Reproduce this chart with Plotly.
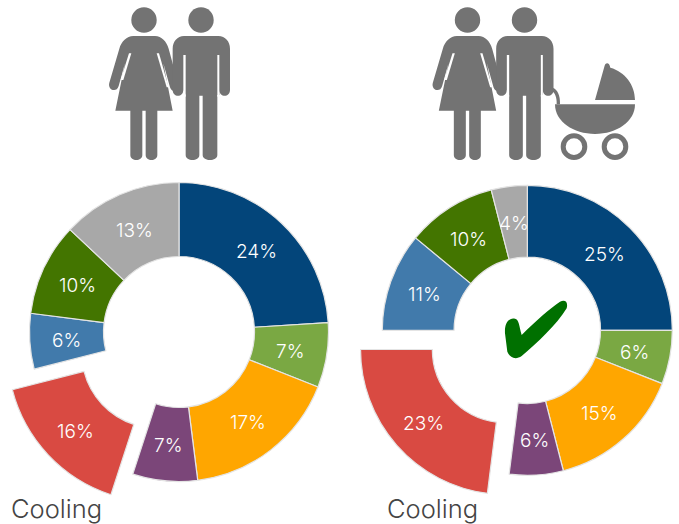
import math, re
import plotly.graph_objects as go

W, H = 679, 524
SLICE_NAMES = ["Heating", "Hot water", "Appliances", "Lighting", "Cooling", "Cooking", "Electronics", "Other"]
COLORS = ["#03457A", "#7AA843", "#FFA600", "#7B4679", "#D94A42", "#417AAB", "#437500", "#A8A8A8"]
COUPLE_VALUES = [24, 7, 17, 7, 16, 6, 10, 13]
FAMILY_VALUES = [25, 6, 15, 6, 23, 11, 10, 4]
PULLED_SLICE = "Cooling"
CAPTION = "Cooling"
GREY = "#737373"
EDGE = "#E4E4E4"
FONT = "Inter"
HOLE = 0.505
label_notes = []


def donut(values, cx, cy, r, offset):
    idx = SLICE_NAMES.index(PULLED_SLICE)
    total = sum(values)
    mid = (sum(values[:idx]) + values[idx] / 2) / total * 2 * math.pi
    dx, dy = offset * math.sin(mid), -offset * math.cos(mid)
    traces = []
    for focus, ox, oy in ((False, 0, 0), (True, dx, dy)):
        shown = [(i == idx) == focus for i in range(len(values))]
        traces.append(go.Pie(
            labels=SLICE_NAMES, values=values, sort=False, direction="clockwise", rotation=0,
            hole=HOLE, showlegend=False, hoverinfo="skip", textinfo="none",
            domain=dict(x=[(cx + ox - r) / W, (cx + ox + r) / W],
                        y=[1 - (cy + oy + r) / H, 1 - (cy + oy - r) / H]),
            marker=dict(colors=[c if s else "rgba(0,0,0,0)" for c, s in zip(COLORS, shown)],
                        line=dict(color=EDGE, width=[1.2 if s else 0 for s in shown])),
        ))
    # value labels sit at the middle of each ring segment
    ring = r * (1 + HOLE) / 2
    start = 0
    for i, v in enumerate(values):
        a = (start + v / 2) / total * 2 * math.pi
        start += v
        lx = cx + ring * math.sin(a) + (dx if i == idx else 0)
        ly = cy - ring * math.cos(a) + (dy if i == idx else 0) + 1.5
        label_notes.append(dict(
            text=f"{v}%", x=lx / W, y=1 - ly / H, xref="paper", yref="paper",
            xanchor="center", yanchor="middle", showarrow=False,
            font=dict(color="white", size=19, family=FONT, weight=300)))
    return traces


def path(s, ox=0, oy=0, scale=1.0):
    nums = iter(re.findall(r"-?\d+\.?\d*|[A-Z]", s))
    out, is_x = [], True
    for t in nums:
        if t.isalpha():
            out.append(t)
            is_x = True
        else:
            v = float(t)
            if is_x:
                out.append(f"{(ox + v * scale) / W:.5f}")
            else:
                out.append(f"{1 - (oy + v * scale) / H:.5f}")
            is_x = not is_x
    return " ".join(out)


def solid(s, ox, oy, scale=1 / 3, color=GREY):
    return dict(type="path", xref="paper", yref="paper", path=path(s, ox, oy, scale),
                fillcolor=color, line=dict(width=0), layer="above")


def circle(cx, cy, r, fill=GREY, line=None):
    return dict(type="circle", xref="paper", yref="paper",
                x0=(cx - r) / W, x1=(cx + r) / W, y0=1 - (cy + r) / H, y1=1 - (cy - r) / H,
                fillcolor=fill, line=line or dict(width=0), layer="above")


WOMAN = ("M 100 108 L 165 108 C 185 108 200 125 206 146 L 234 250 C 240 272 216 282 210 262 "
         "L 190 190 L 218 332 L 172 332 L 172 465 C 172 485 137 485 137 465 L 137 332 L 127 332 "
         "L 127 465 C 127 485 91 485 91 465 L 91 332 L 46 332 L 75 190 L 56 258 "
         "C 50 280 22 270 28 248 L 58 146 C 64 125 80 108 100 108 Z")
WOMAN_SLITS = ["M 87 160 L 94 160 L 70 240 L 62 240 Z", "M 170 160 L 177 160 L 206 262 L 200 262 Z"]
MAN = ("M 252 108 L 355 108 C 376 108 390 125 390 146 L 390 270 C 390 293 358 293 358 270 L 358 285 "
       "L 352 285 L 352 465 C 352 485 308 485 308 465 L 308 287 L 298 287 L 298 465 "
       "C 298 485 257 485 257 465 L 257 285 L 250 270 C 250 293 218 293 218 270 L 218 146 "
       "C 218 125 232 108 252 108 Z")
MAN_SLITS = ["M 250 165 L 257 165 L 257 290 L 250 290 Z", "M 352 165 L 358 165 L 358 290 L 352 290 Z"]
HOOD = ("M 510 300 L 538 200 C 541 186 553 186 556 203 C 600 215 630 255 630 300 Z")
BASKET = "M 390 313 L 630 313 C 630 365 575 402 510 402 C 445 402 390 365 390 313 Z"
HANDLE = "M 383 263 C 397 268 406 285 405 313 L 395 313 C 396 292 390 278 380 273 Z"
CHECK = ("M 465 490 C 463 455 480 442 495 446 C 507 449 507 465 515 495 C 560 450 600 415 630 395 "
         "C 645 388 655 395 650 415 C 620 465 560 520 515 558 C 498 570 480 565 472 545 Z")

shapes = []
for ox, oy in ((100, 0), (423.5, 0)):
    shapes += [circle(ox + 44, 20, 12.7), circle(ox + 101, 20, 12.7)]
    shapes += [solid(WOMAN, ox, oy), solid(MAN, ox, oy)]
    shapes += [solid(s, ox, oy, color="white") for s in WOMAN_SLITS + MAN_SLITS]
for s in (HOOD, BASKET, HANDLE):
    shapes.append(solid(s, 425, 0))
shapes += [circle(425 + 447 / 3, 440 / 3, 10.8, "white", dict(color=GREY, width=5)),
           circle(425 + 570 / 3, 440 / 3, 10.8, "white", dict(color=GREY, width=5))]
shapes.append(solid(CHECK, 350, 170, color="#007000"))

fig = go.Figure(donut(COUPLE_VALUES, 179, 332, 149.5, 30) + donut(FAMILY_VALUES, 527.3, 330.3, 145, 29))

caption_font = dict(family=FONT, size=25.5, color="#444444", weight=300)
annotations = label_notes + [
    dict(text=CAPTION, x=9 / W, y=1 - 508 / H, xref="paper", yref="paper", xanchor="left",
         yanchor="middle", showarrow=False, font=caption_font),
    dict(text=CAPTION, x=385 / W, y=1 - 508 / H, xref="paper", yref="paper", xanchor="left",
         yanchor="middle", showarrow=False, font=caption_font),
]

fig.update_layout(width=W, height=H, margin=dict(l=0, r=0, t=0, b=0), paper_bgcolor="white",
                  plot_bgcolor="white", shapes=shapes, annotations=annotations, showlegend=False)
fig.write_html("out.html", config=dict(displayModeBar=False),
               post_script="document.body.style.margin='0';document.body.style.overflow='hidden';")
